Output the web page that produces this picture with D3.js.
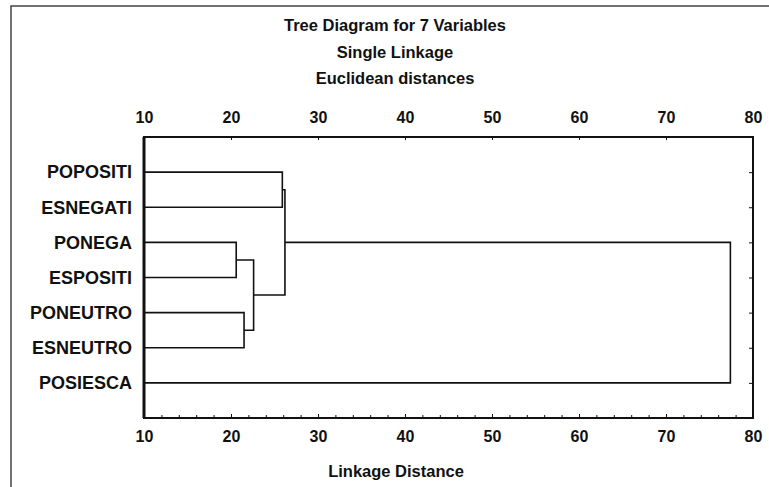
<!DOCTYPE html>
<html>
<head>
<meta charset="utf-8">
<script src="https://cdn.jsdelivr.net/npm/d3@7"></script>
<style>
    body { margin: 0; background: #fff; }
    svg { display: block; font-family: Arial, "Liberation Sans", sans-serif; }
    .axis path, .axis line { stroke: #111; }
    .axis text { fill: #111; }
</style>
</head>
<body>
<svg id="chart" width="769" height="487"></svg>
<script>
// leaves, top to bottom
const variables = ['POPOSITI', 'ESNEGATI', 'PONEGA', 'ESPOSITI', 'PONEUTRO', 'ESNEUTRO', 'POSIESCA'];

// merge steps: negative = leaf index (-1 is first leaf), positive = earlier step (1-based)
const mergeA = [-3, -5, 1, -1, 4, 5];
const mergeB = [-4, -6, 2, -2, 3, -7];
const mergeDist = [20.6, 21.5, 22.6, 25.9, 26.2, 77.4];

const xTicks = [10, 20, 30, 40, 50, 60, 70, 80];
const titles = ['Tree Diagram for 7 Variables', 'Single Linkage', 'Euclidean distances'];
const xTitle = 'Linkage Distance';

const frame = { left: 144, right: 753, top: 137, bottom: 418 };

const svg = d3.select('#chart');

// outer border of the graph window
svg.append('path')
    .attr('d', 'M11,487 V6 H769')
    .attr('fill', 'none')
    .attr('stroke', '#444')
    .attr('stroke-width', 1.5)

const x = d3.scaleLinear()
    .domain([10, 80])
    .range([frame.left, frame.right])

const y = d3.scalePoint()
    .domain(variables)
    .range([frame.top, frame.bottom])
    .padding(1)

// titles
svg.selectAll('.title')
    .data(titles)
    .join('text')
    .attr('class', 'title')
    .attr('x', 395)
    .attr('y', (d, i) => 31 + i * 26.5)
    .attr('text-anchor', 'middle')
    .style('font-size', '16.5px')
    .style('font-weight', 'bold')
    .style('fill', '#111')
    .text(d => d)

svg.append('text')
    .attr('x', 396)
    .attr('y', 477)
    .attr('text-anchor', 'middle')
    .style('font-size', '16.5px')
    .style('font-weight', 'bold')
    .style('fill', '#111')
    .text(xTitle)

// axes
svg.append('g')
    .attr('class', 'axis')
    .attr('transform', `translate(0,${frame.top})`)
    .call(d3.axisTop(x).tickValues(xTicks).tickSizeInner(-3).tickSizeOuter(0).tickPadding(14))

svg.append('g')
    .attr('class', 'axis')
    .attr('transform', `translate(0,${frame.bottom})`)
    .call(d3.axisBottom(x).tickValues(d3.range(10, 81, 2)).tickSizeInner(-3).tickSizeOuter(0).tickFormat(''))

svg.append('g')
    .attr('class', 'axis')
    .attr('transform', `translate(0,${frame.bottom})`)
    .call(d3.axisBottom(x).tickValues(xTicks).tickSizeInner(-4).tickSizeOuter(0).tickPadding(13))

svg.append('g')
    .attr('class', 'axis')
    .attr('transform', `translate(${frame.right},0)`)
    .call(d3.axisRight(y).tickSizeInner(-4).tickSizeOuter(0).tickFormat(''))

const axisLeftG = svg.append('g')
    .attr('class', 'axis')
    .attr('transform', `translate(${frame.left},0)`)
    .call(d3.axisLeft(y).tickSize(0).tickPadding(12))

svg.selectAll('.axis text')
    .style('font-size', '16px')
    .style('font-weight', 'bold')

axisLeftG.selectAll('text')
    .style('font-size', '18px')

svg.selectAll('.axis .domain').remove()

// frame
svg.append('rect')
    .attr('x', frame.left)
    .attr('y', frame.top)
    .attr('width', frame.right - frame.left)
    .attr('height', frame.bottom - frame.top)
    .attr('fill', 'none')
    .attr('stroke', '#111')
    .attr('stroke-width', 2)

svg.append('line')
    .attr('x1', frame.left)
    .attr('x2', frame.left)
    .attr('y1', frame.top)
    .attr('y2', frame.bottom)
    .attr('stroke', '#111')
    .attr('stroke-width', 3)

// dendrogram links
const nodes = [];
let path = '';

function child(k) {
    if (k < 0) {
        const name = variables[-k - 1];
        return { x: 10, y: y(name) };
    }
    return nodes[k - 1];
}

mergeDist.forEach((dist, i) => {
    const a = child(mergeA[i]);
    const b = child(mergeB[i]);
    path += `M${x(a.x)},${a.y}H${x(dist)}V${b.y}H${x(b.x)}`;
    nodes.push({ x: dist, y: (a.y + b.y) / 2 });
})

svg.append('path')
    .attr('d', path)
    .attr('fill', 'none')
    .attr('stroke', '#111')
    .attr('stroke-width', 1.6)
</script>
</body>
</html>
